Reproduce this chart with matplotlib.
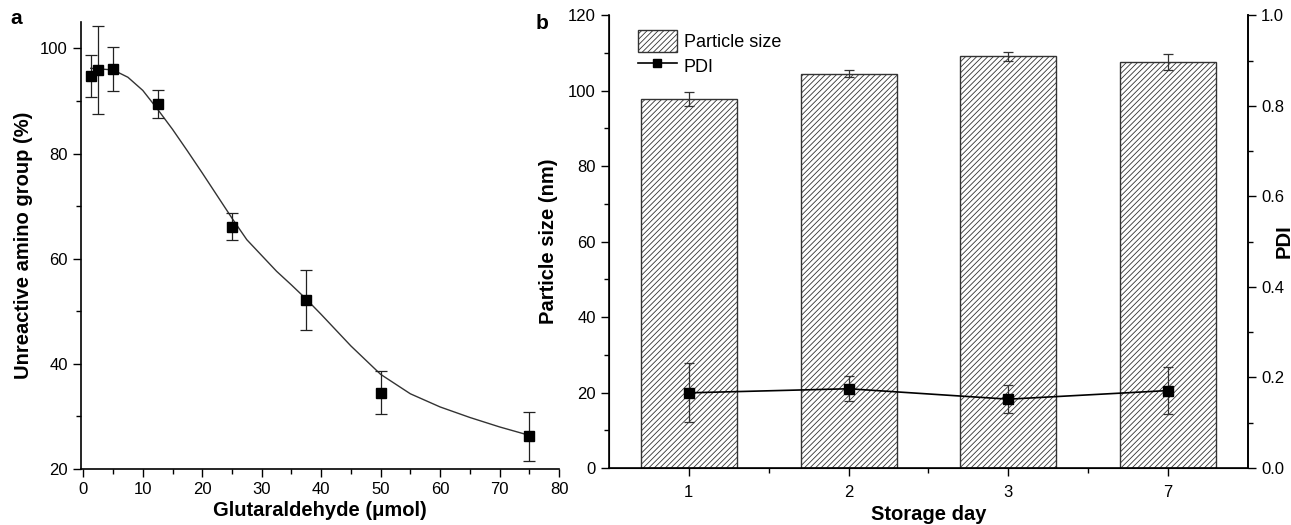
"""
Two-panel figure: (a) unreactive amino groups vs glutaraldehyde, (b) particle size / PDI over storage.
"""
import numpy as np
import matplotlib
matplotlib.use("Agg")
import matplotlib.pyplot as plt
from matplotlib.patches import Patch
from matplotlib.lines import Line2D
from matplotlib.ticker import MultipleLocator, FormatStrFormatter

plt.rcParams["font.family"] = ["Liberation Sans", "DejaVu Sans"]
plt.rcParams["hatch.linewidth"] = 0.6
plt.rcParams["hatch.color"] = "#333333"

# -------------------- Data: panel a --------------------
glut_x = [1.25, 2.5, 5, 12.5, 25, 37.5, 50, 75]
amino_y = [94.8, 95.9, 96.1, 89.4, 66.1, 52.2, 34.5, 26.2]
amino_err = [4.0, 8.4, 4.2, 2.6, 2.6, 5.7, 4.1, 4.7]

# fitted curve
fit_x = [1.25, 2.5, 5, 7.5, 10, 12.5, 15, 17.5, 20, 22.5, 25, 27.5, 30, 32.5,
         35, 37.5, 40, 45, 50, 55, 60, 65, 70, 75]
fit_y = [96.2, 96.1, 95.9, 94.5, 92.0, 88.4, 84.6, 80.5, 76.3, 72.0, 67.7, 63.6, 60.6, 57.6,
         55.0, 52.3, 49.4, 43.4, 38.0, 34.3, 31.8, 29.8, 28.0, 26.4]

# -------------------- Data: panel b --------------------
days = ["1", "2", "3", "7"]
size_nm = [97.8, 104.5, 109.1, 107.5]
size_err = [1.8, 0.85, 1.1, 2.1]
pdi = [0.166, 0.175, 0.152, 0.171]
pdi_err = [0.065, 0.028, 0.031, 0.052]

# -------------------- Plot --------------------
fig = plt.figure(figsize=(12.91, 5.25), dpi=100)
ax_a = fig.add_axes([0.0627, 0.1067, 0.3703, 0.8513])
ax_b = fig.add_axes([0.4717, 0.1086, 0.4950, 0.8624])

LAB = 14.5
tick_kw = dict(direction="out", labelsize=12, width=1.0)

# panel a
ax_a.plot(fit_x, fit_y, color="#333333", lw=1.0, zorder=2)
ax_a.errorbar(glut_x, amino_y, yerr=amino_err, fmt="s", color="black", ms=7.5,
              ecolor="#222222", elinewidth=0.9, capsize=4, capthick=0.9, zorder=3)
ax_a.set_xlim(-0.4, 80)
ax_a.set_ylim(20, 105)
ax_a.xaxis.set_major_locator(MultipleLocator(10))
ax_a.xaxis.set_minor_locator(MultipleLocator(5))
ax_a.yaxis.set_major_locator(MultipleLocator(20))
ax_a.yaxis.set_minor_locator(MultipleLocator(10))
ax_a.tick_params(which="major", length=6, **tick_kw)
ax_a.tick_params(which="minor", length=3.5, direction="out", width=1.0)
for s in ["top", "right"]:
    ax_a.spines[s].set_visible(False)
for s in ["left", "bottom"]:
    ax_a.spines[s].set_linewidth(1.2)
ax_a.set_xlabel("Glutaraldehyde (\u03bcmol)", fontsize=LAB, fontweight="bold", va="center")
ax_a.xaxis.set_label_coords(0.5, -0.093)
ax_a.set_ylabel("Unreactive amino group (%)", fontsize=LAB, fontweight="bold", va="center")
ax_a.yaxis.set_label_coords(-0.12, 0.5)
fig.text(0.008, 0.955, "a", fontsize=15, fontweight="bold")

# panel b
pos = np.arange(1, len(days) + 1)
ax_b.bar(pos, size_nm, width=0.6, yerr=size_err, facecolor="white", edgecolor="#333333",
         linewidth=1.0, hatch="//////", capsize=3.5,
         error_kw=dict(elinewidth=0.9, capthick=0.9, ecolor="#333333"), zorder=2)
ax_b.set_xlim(0.5, 4.5)
ax_b.set_ylim(0, 120)
ax_b.set_xticks(pos)
ax_b.set_xticklabels(days)
ax_b.set_xticks([1.5, 2.5, 3.5], minor=True)
ax_b.yaxis.set_major_locator(MultipleLocator(20))
ax_b.yaxis.set_minor_locator(MultipleLocator(10))
ax_b.tick_params(which="major", length=6, **tick_kw)
ax_b.tick_params(which="major", axis="x", pad=6)
ax_b.tick_params(which="minor", length=3.5, direction="out", width=1.0)
ax_b.spines["top"].set_visible(False)
for s in ["left", "bottom", "right"]:
    ax_b.spines[s].set_linewidth(1.2)
ax_b.set_xlabel("Storage day", fontsize=LAB, fontweight="bold", va="center")
ax_b.xaxis.set_label_coords(0.5, -0.103)
ax_b.set_ylabel("Particle size (nm)", fontsize=LAB, fontweight="bold", va="center")
ax_b.yaxis.set_label_coords(-0.095, 0.5)
fig.text(0.415, 0.945, "b", fontsize=15, fontweight="bold")

ax_r = ax_b.twinx()
ax_r.errorbar(pos, pdi, yerr=pdi_err, fmt="-s", color="black", ms=7.5, lw=1.2,
              ecolor="#333333", elinewidth=0.9, capsize=3.5, capthick=0.9, zorder=3)
ax_r.set_ylim(0, 1.0)
ax_r.yaxis.set_major_locator(MultipleLocator(0.2))
ax_r.yaxis.set_minor_locator(MultipleLocator(0.1))
ax_r.yaxis.set_major_formatter(FormatStrFormatter("%.1f"))
ax_r.tick_params(which="major", length=6, **tick_kw)
ax_r.tick_params(which="minor", length=3.5, direction="out", width=1.0)
ax_r.spines["top"].set_visible(False)
ax_r.spines["right"].set_linewidth(1.2)
ax_r.set_ylabel("PDI", fontsize=LAB, fontweight="bold", va="center")
ax_r.yaxis.set_label_coords(1.056, 0.5)

handles = [Patch(facecolor="white", edgecolor="#333333", hatch="//////", label="Particle size"),
           Line2D([0], [0], color="black", lw=1.2, marker="s", ms=6, label="PDI")]
ax_b.legend(handles=handles, loc="upper left", bbox_to_anchor=(0.025, 0.995), frameon=False,
            fontsize=13, handlelength=2.2, handleheight=1.5, labelspacing=0.15,
            handletextpad=0.35, borderaxespad=0.3)

plt.savefig("out.png", dpi=100)
